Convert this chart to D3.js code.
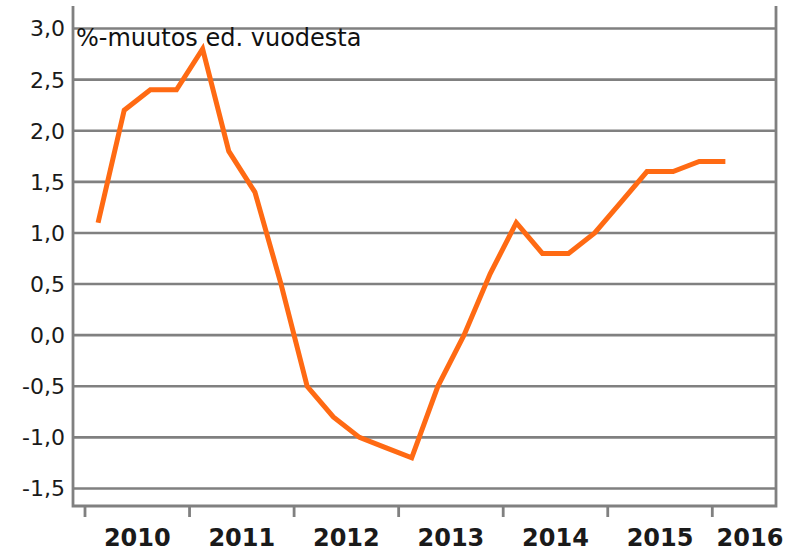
<!DOCTYPE html>
<html>
<head>
<meta charset="utf-8">
<script src="https://cdn.jsdelivr.net/npm/d3@7"></script>
<style>
  html, body { margin: 0; padding: 0; background: #fff; }
  svg { display: block; }
</style>
</head>
<body>
<svg id="chart" width="796" height="551"></svg>
<script>
// ---- data ----
const years = [2010, 2011, 2012, 2013, 2014, 2015, 2016];
const quarters = [
  "2010Q1","2010Q2","2010Q3","2010Q4",
  "2011Q1","2011Q2","2011Q3","2011Q4",
  "2012Q1","2012Q2","2012Q3","2012Q4",
  "2013Q1","2013Q2","2013Q3","2013Q4",
  "2014Q1","2014Q2","2014Q3","2014Q4",
  "2015Q1","2015Q2","2015Q3","2015Q4",
  "2016Q1"
];
const values = [
  1.1, 2.2, 2.4, 2.4,
  2.8, 1.8, 1.4, 0.5,
  -0.5, -0.8, -1.0, -1.1,
  -1.2, -0.5, 0.0, 0.6,
  1.1, 0.8, 0.8, 1.0,
  1.3, 1.6, 1.6, 1.7,
  1.7
];
const yTicks = [-1.5, -1.0, -0.5, 0.0, 0.5, 1.0, 1.5, 2.0, 2.5, 3.0];
const title = "%-muutos ed. vuodesta";

// ---- layout ----
const svg = d3.select("#chart");
const plotLeft = 73, plotRight = 776, plotTop = 6, plotBottom = 506;
const grey = "#808080";

const x = d3.scaleLinear().domain([2010, 2016]).range([85, 712.3]);
const y = d3.scaleLinear().domain([-1.5, 3.0]).range([488.5, 28.5]);

function qPos(q) {
  const yr = +q.slice(0, 4), n = +q.slice(5);
  return yr + (n - 0.5) / 4;
}
const fmt = v => d3.format(".1f")(v).replace(".", ",").replace("−", "-");

// gridlines
svg.append("g").selectAll("line").data(yTicks).join("line")
  .attr("x1", plotLeft).attr("x2", plotRight)
  .attr("y1", d => y(d)).attr("y2", d => y(d))
  .attr("stroke", grey).attr("stroke-width", 2.6);

// frame (left, right, bottom)
const frame = svg.append("g").attr("stroke", grey).attr("stroke-width", 2.8).attr("fill", "none");
frame.append("path")
  .attr("d", `M${plotLeft},${plotTop}V${plotBottom}H${plotRight}V${plotTop}`);

// x ticks
svg.append("g").selectAll("line").data(years).join("line")
  .attr("x1", d => x(d)).attr("x2", d => x(d))
  .attr("y1", plotBottom).attr("y2", plotBottom + 11)
  .attr("stroke", grey).attr("stroke-width", 2.8);

// x labels
svg.append("g").selectAll("text").data(years).join("text")
  .attr("x", d => Math.min(x(d + 0.5), plotRight - 26))
  .attr("y", 546)
  .attr("text-anchor", "middle")
  .attr("font-family", "DejaVu Sans, Verdana, sans-serif")
  .attr("font-weight", "bold")
  .attr("font-size", 24)
  .attr("fill", "#1a1a1a")
  .text(d => d);

// y labels
svg.append("g").selectAll("text").data(yTicks).join("text")
  .attr("x", 65)
  .attr("y", d => y(d))
  .attr("dy", "0.36em")
  .attr("text-anchor", "end")
  .attr("font-family", "DejaVu Sans, Verdana, sans-serif")
  .attr("font-size", 22)
  .attr("fill", "#1a1a1a")
  .text(d => fmt(d));

// title
svg.append("text")
  .attr("x", 76).attr("y", 46)
  .attr("font-family", "DejaVu Sans, Verdana, sans-serif")
  .attr("font-size", 24)
  .attr("fill", "#111")
  .text(title);

// line
const line = d3.line()
  .x((d, i) => x(qPos(quarters[i])))
  .y(d => y(d));
svg.append("path")
  .datum(values)
  .attr("d", line)
  .attr("fill", "none")
  .attr("stroke", "#ff6a13")
  .attr("stroke-width", 5)
  .attr("stroke-linejoin", "miter");
</script>
</body>
</html>
